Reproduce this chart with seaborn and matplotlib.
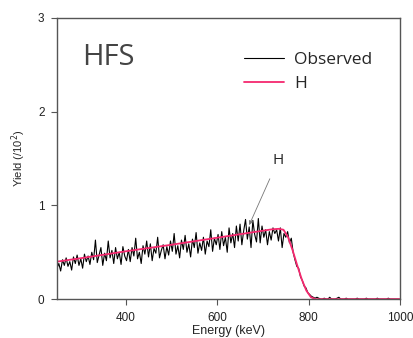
import numpy as np
import pandas as pd
import matplotlib
matplotlib.use("Agg")
import matplotlib.pyplot as plt
import seaborn as sns

# ---- data (energy in keV, yield in units of 10^2) ----
energy = np.arange(250, 1000, 4)

observed = (
    [0.33, 0.38, 0.30, 0.42, 0.36, 0.44, 0.35, 0.40, 0.31, 0.45]
    + [0.38, 0.47, 0.36, 0.43, 0.33, 0.48, 0.40, 0.46, 0.37, 0.50]
    + [0.42, 0.63, 0.39, 0.47, 0.55, 0.36, 0.49, 0.41, 0.62, 0.44]
    + [0.52, 0.38, 0.55, 0.43, 0.50, 0.37, 0.56, 0.46, 0.41, 0.53]
    + [0.40, 0.55, 0.46, 0.65, 0.43, 0.50, 0.38, 0.57, 0.48, 0.62]
    + [0.45, 0.59, 0.41, 0.54, 0.49, 0.66, 0.44, 0.52, 0.58, 0.43]
    + [0.56, 0.47, 0.62, 0.51, 0.70, 0.48, 0.57, 0.44, 0.63, 0.53]
    + [0.68, 0.50, 0.59, 0.45, 0.64, 0.55, 0.71, 0.49, 0.60, 0.52]
    + [0.66, 0.48, 0.62, 0.56, 0.74, 0.51, 0.65, 0.58, 0.69, 0.53]
    + [0.72, 0.57, 0.66, 0.50, 0.76, 0.60, 0.70, 0.55, 0.78, 0.62]
    + [0.80, 0.58, 0.73, 0.85, 0.64, 0.77, 0.55, 0.84, 0.69, 0.61]
    + [0.86, 0.60, 0.78, 0.66, 0.74, 0.58, 0.72, 0.63, 0.76, 0.70]
    + [0.74, 0.62, 0.76, 0.55, 0.70, 0.66, 0.72, 0.60, 0.65, 0.50]
    + [0.42, 0.35, 0.33, 0.24, 0.20, 0.14, 0.12, 0.07, 0.05, 0.03]
    + [0.02, 0.01, 0.02]
    + [0.01, 0, 0, 0.01, 0, 0, 0.02, 0, 0, 0]
    + [0.01, 0.02, 0, 0, 0, 0.01, 0, 0, 0, 0]
    + [0, 0.01, 0, 0, 0, 0, 0.01, 0, 0, 0]
    + [0, 0, 0.01, 0, 0, 0, 0, 0, 0.01, 0]
    + [0, 0, 0, 0, 0]
)

fit_energy = [250, 300, 400, 500, 600, 700, 720, 735, 745, 755, 765, 775, 785, 795, 805, 815, 1000]
fit_yield = [0.40, 0.435, 0.51, 0.58, 0.655, 0.73, 0.745, 0.75, 0.74, 0.66, 0.52, 0.36, 0.21, 0.09, 0.02, 0.0, 0.0]

df_obs = pd.DataFrame({"Energy": energy, "Yield": observed})
df_fit = pd.DataFrame({"Energy": fit_energy, "Yield": fit_yield})

# ---- style ----
sns.set_style("ticks")
plt.rcParams["font.family"] = ["Liberation Sans", "DejaVu Sans"]
edge = "#555555"

fig = plt.figure(figsize=(4.13, 3.38), dpi=100)
ax = fig.add_axes([0.138, 0.115, 0.831, 0.832])

sns.lineplot(data=df_obs, x="Energy", y="Yield", ax=ax, color="black",
             linewidth=0.8, label="Observed")
sns.lineplot(data=df_fit, x="Energy", y="Yield", ax=ax, color="#F5286E",
             linewidth=1.3, label="H")

ax.set_xlim(250, 1000)
ax.set_ylim(0, 3)
ax.set_xticks([400, 600, 800, 1000])
ax.set_yticks([0, 1, 2, 3])
ax.tick_params(labelsize=8.5, colors="#222222", length=4, width=0.8, pad=5)
ax.tick_params(axis="both", color=edge)
for s in ax.spines.values():
    s.set_color(edge)
    s.set_linewidth(1.0)

ax.set_xlabel("Energy (keV)", fontsize=9, labelpad=1)
ax.set_ylabel("Yield (/10$^2$)", fontsize=8, labelpad=7)

ax.text(305, 2.58, "HFS", fontsize=21, color="#444444", va="center",
        family=["Open Sans", "DejaVu Sans"])

ax.annotate("H", xy=(670, 0.79), xytext=(733, 1.48), fontsize=11,
            ha="center", va="center", family=["Open Sans", "DejaVu Sans"],
            arrowprops=dict(arrowstyle="-|>", color="#777777", lw=0.6,
                            mutation_scale=6, shrinkA=6, shrinkB=0))

leg = ax.legend(loc="upper right", bbox_to_anchor=(0.965, 0.935), frameon=False,
                handlelength=2.3, handletextpad=0.6, labelspacing=0.45,
                prop={"family": ["Open Sans", "DejaVu Sans"], "size": 12.5})

plt.savefig("out.png", dpi=100)
